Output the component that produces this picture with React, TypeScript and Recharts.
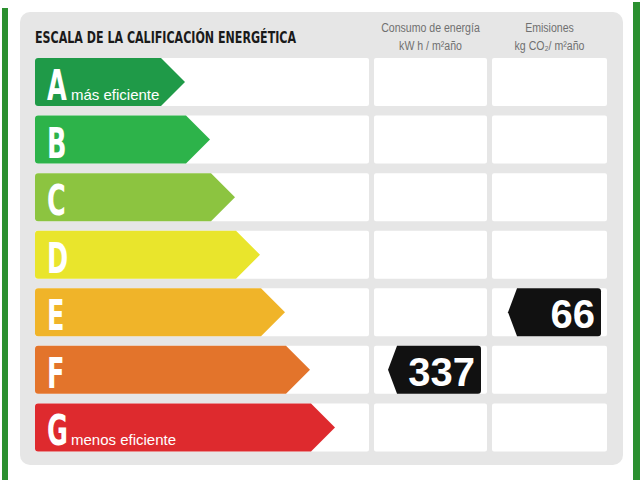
import { BarChart, Bar, XAxis, YAxis } from 'recharts'

const classes = ['A', 'B', 'C', 'D', 'E', 'F', 'G']
const arrowLengths = [6, 7, 8, 9, 10, 11, 12]
const classColors = ['#1f9a48', '#2db34a', '#8cc440', '#e9e52c', '#f0b429', '#e3742b', '#de2a2e']
const classCaptions = ['más eficiente', '', '', '', '', '', 'menos eficiente']
const consumo = [null, null, null, null, null, 337, null]
const emisiones = [null, null, null, null, 66, null, null]

const CONDENSED = "'DejaVu Sans Condensed', 'DejaVu Sans', sans-serif"
const PLAIN = "'Liberation Sans', Arial, sans-serif"

// empty cells get 0 so that the white cell background is still drawn
const rows = classes.map((clase, i) => ({
  clase,
  largo: arrowLengths[i],
  color: classColors[i],
  caption: classCaptions[i],
  consumo: consumo[i] ?? 0,
  emisiones: emisiones[i] ?? 0,
}))

const CHART_TOP = 53
const CHART_H = 403

function Arrow(props: any) {
  const { x, y, width, height, payload } = props
  const r = 3
  const tip = height / 2
  const d = `M${x + r},${y} L${x + width - tip},${y} L${x + width},${y + height / 2} L${x + width - tip},${y + height} L${x + r},${y + height} Q${x},${y + height} ${x},${y + height - r} L${x},${y + r} Q${x},${y} ${x + r},${y} Z`
  return (
    <g>
      <path d={d} fill={payload.color} />
      <text
        transform={`translate(${x + 12},${y + height - 6}) scale(0.66,1)`}
        fill="#fff"
        fontFamily={CONDENSED}
        fontWeight="bold"
        fontSize={43}
      >
        {payload.clase}
      </text>
      {payload.caption && (
        <text x={x + 36} y={y + height - 6} fill="#fff" fontFamily={PLAIN} fontSize={15}>
          {payload.caption}
        </text>
      )}
    </g>
  )
}

function Tag(props: any) {
  const { x, y, width, height, value } = props
  if (!value || !width) return null
  const right = x + width - 6
  const w = 93
  const notch = 9
  const r = 3
  const left = right - w
  const d = `M${left},${y + height / 2} L${left + notch},${y} L${right - r},${y} Q${right},${y} ${right},${y + r} L${right},${y + height - r} Q${right},${y + height} ${right - r},${y + height} L${left + notch},${y + height} Z`
  return (
    <g>
      <path d={d} fill="#111" />
      <text x={right - 6} y={y + height - 8} textAnchor="end" fill="#fff" fontFamily={PLAIN} fontWeight="bold" fontSize={40}>
        {value}
      </text>
    </g>
  )
}

function Column({ left, width, dataKey }: { left: number; width: number; dataKey: string }) {
  return (
    <div style={{ position: 'absolute', left, top: CHART_TOP }}>
      <BarChart width={width} height={CHART_H} data={rows} layout="vertical" margin={{ top: 0, right: 0, bottom: 0, left: 0 }} barCategoryGap={5}>
        <YAxis type="category" dataKey="clase" hide />
        <XAxis type="number" hide domain={[0, 'dataMax']} />
        <Bar dataKey={dataKey} background={{ fill: '#fff', radius: 2 }} shape={Tag} isAnimationActive={false} />
      </BarChart>
    </div>
  )
}

const headStyle: any = {
  position: 'absolute',
  top: 19,
  textAlign: 'center',
  fontFamily: PLAIN,
  fontSize: 12,
  lineHeight: '18px',
  color: '#707070',
  whiteSpace: 'nowrap',
  transform: 'scaleX(0.88)',
}

export default function App() {
  return (
    <div style={{ position: 'absolute', left: 0, top: 0, width: 640, height: 480, background: '#fff', overflow: 'hidden' }}>
      <div style={{ position: 'absolute', left: 2, top: 8, width: 6, height: 472, background: '#2b9030' }} />
      <div style={{ position: 'absolute', left: 633, top: 2, width: 7, height: 478, background: '#2b9030' }} />
      <div style={{ position: 'absolute', left: 20, top: 12, width: 603, height: 453, background: '#e6e6e6', borderRadius: 10 }} />

      <div
        style={{
          position: 'absolute',
          left: 35,
          top: 28,
          fontFamily: CONDENSED,
          fontWeight: 'bold',
          fontSize: 16,
          color: '#1a1a1a',
          whiteSpace: 'nowrap',
          transform: 'scaleX(0.77)',
          transformOrigin: 'left center',
        }}
      >
        ESCALA DE LA CALIFICACIÓN ENERGÉTICA
      </div>
      <div style={{ ...headStyle, left: 374, width: 113 }}>
        <div>Consumo de energía</div>
        <div>kW h / m²año</div>
      </div>
      <div style={{ ...headStyle, left: 492, width: 115 }}>
        <div>Emisiones</div>
        <div>kg CO₂/ m²año</div>
      </div>

      <div style={{ position: 'absolute', left: 35, top: CHART_TOP }}>
        <BarChart width={334} height={CHART_H} data={rows} layout="vertical" margin={{ top: 0, right: 0, bottom: 0, left: 0 }} barCategoryGap={5}>
          <YAxis type="category" dataKey="clase" hide />
          <XAxis type="number" hide domain={[0, 13.36]} />
          <Bar dataKey="largo" background={{ fill: '#fff', radius: 2 }} shape={Arrow} isAnimationActive={false} />
        </BarChart>
      </div>
      <Column left={374} width={113} dataKey="consumo" />
      <Column left={492} width={115} dataKey="emisiones" />
    </div>
  )
}
